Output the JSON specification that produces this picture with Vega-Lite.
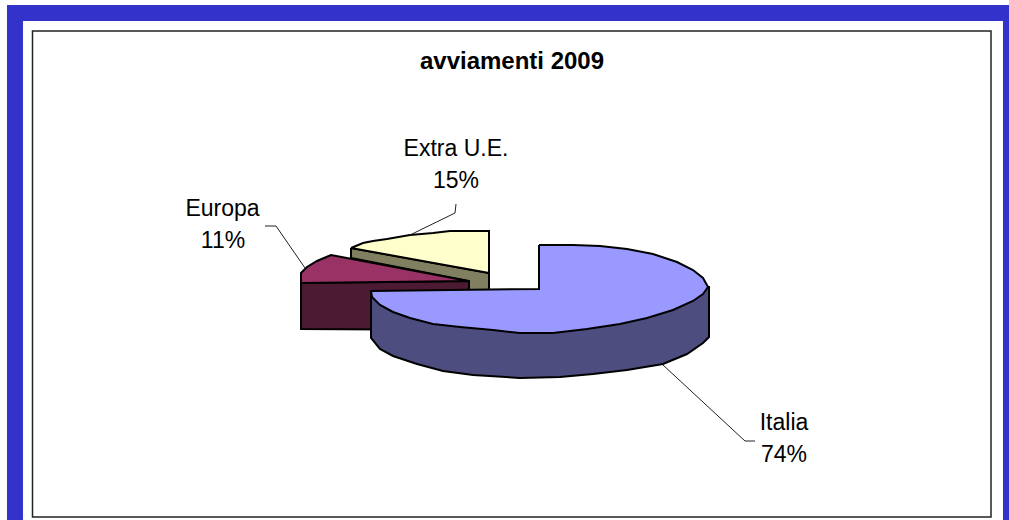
{"$schema":"https://vega.github.io/schema/vega-lite/v6.json","width":1009,"height":520,"padding":0,"autosize":{"type":"fit","contains":"padding"},"background":"white","view":{"stroke":null},
"datasets":{
"frame":[{"p":"blueL","x":7,"x2":23,"y":5,"y2":520,"f":"#3333cc"},{"p":"blueT","x":7,"x2":1009,"y":5,"y2":21,"f":"#3333cc"},{"p":"blueR","x":1003,"x2":1009,"y":5,"y2":520,"f":"#3333cc"}],
"box":[{"x":32.5,"x2":991,"y":31,"y2":517}],
"shapes":[
{"part":"1 Extra side","s":0,"x":351,"y":248},{"part":"1 Extra side","s":1,"x":351,"y":258},{"part":"1 Extra side","s":2,"x":469,"y":281},{"part":"1 Extra side","s":3,"x":469,"y":291},{"part":"1 Extra side","s":4,"x":489,"y":291},{"part":"1 Extra side","s":5,"x":489,"y":273},{"part":"1 Extra side","s":6,"x":351,"y":248},
{"part":"2 Extra top","s":0,"x":351,"y":248},{"part":"2 Extra top","s":1,"x":363,"y":243},{"part":"2 Extra top","s":2,"x":373,"y":241},{"part":"2 Extra top","s":3,"x":387,"y":239},{"part":"2 Extra top","s":4,"x":410,"y":235},{"part":"2 Extra top","s":5,"x":433,"y":233},{"part":"2 Extra top","s":6,"x":450,"y":231},{"part":"2 Extra top","s":7,"x":489,"y":231},{"part":"2 Extra top","s":8,"x":489,"y":273},{"part":"2 Extra top","s":9,"x":351,"y":248},
{"part":"3 Europa side","s":0,"x":301,"y":283},{"part":"3 Europa side","s":1,"x":469,"y":281},{"part":"3 Europa side","s":2,"x":469,"y":330},{"part":"3 Europa side","s":3,"x":301,"y":329},{"part":"3 Europa side","s":4,"x":301,"y":283},
{"part":"4 Europa top","s":0,"x":301,"y":283},{"part":"4 Europa top","s":1,"x":301,"y":273},{"part":"4 Europa top","s":2,"x":307,"y":267},{"part":"4 Europa top","s":3,"x":317,"y":261},{"part":"4 Europa top","s":4,"x":331,"y":255},{"part":"4 Europa top","s":5,"x":468,"y":281},{"part":"4 Europa top","s":6,"x":301,"y":283},
{"part":"5 Italia side","s":0,"x":371,"y":291},{"part":"5 Italia side","s":1,"x":371,"y":338},{"part":"5 Italia side","s":2,"x":380,"y":349},{"part":"5 Italia side","s":3,"x":393,"y":356},{"part":"5 Italia side","s":4,"x":417,"y":364},{"part":"5 Italia side","s":5,"x":443,"y":371},{"part":"5 Italia side","s":6,"x":473,"y":375},{"part":"5 Italia side","s":7,"x":520,"y":378},{"part":"5 Italia side","s":8,"x":560,"y":377},{"part":"5 Italia side","s":9,"x":593,"y":374},{"part":"5 Italia side","s":10,"x":627,"y":370},{"part":"5 Italia side","s":11,"x":663,"y":364},{"part":"5 Italia side","s":12,"x":687,"y":354},{"part":"5 Italia side","s":13,"x":703,"y":343},{"part":"5 Italia side","s":14,"x":709,"y":337},{"part":"5 Italia side","s":15,"x":709,"y":287},{"part":"5 Italia side","s":16,"x":520,"y":300},{"part":"5 Italia side","s":17,"x":371,"y":291},
{"part":"6 Italia top","s":0,"x":539,"y":245},{"part":"6 Italia top","s":1,"x":539,"y":289},{"part":"6 Italia top","s":2,"x":371,"y":291},{"part":"6 Italia top","s":3,"x":372,"y":297},{"part":"6 Italia top","s":4,"x":380,"y":305},{"part":"6 Italia top","s":5,"x":393,"y":312},{"part":"6 Italia top","s":6,"x":410,"y":318},{"part":"6 Italia top","s":7,"x":433,"y":324},{"part":"6 Italia top","s":8,"x":460,"y":327},{"part":"6 Italia top","s":9,"x":493,"y":330},{"part":"6 Italia top","s":10,"x":520,"y":333},{"part":"6 Italia top","s":11,"x":553,"y":333},{"part":"6 Italia top","s":12,"x":587,"y":329},{"part":"6 Italia top","s":13,"x":620,"y":324},{"part":"6 Italia top","s":14,"x":647,"y":318},{"part":"6 Italia top","s":15,"x":673,"y":310},{"part":"6 Italia top","s":16,"x":693,"y":301},{"part":"6 Italia top","s":17,"x":703,"y":294},{"part":"6 Italia top","s":18,"x":708,"y":287},{"part":"6 Italia top","s":19,"x":703,"y":278},{"part":"6 Italia top","s":20,"x":693,"y":270},{"part":"6 Italia top","s":21,"x":677,"y":262},{"part":"6 Italia top","s":22,"x":653,"y":254},{"part":"6 Italia top","s":23,"x":627,"y":249},{"part":"6 Italia top","s":24,"x":600,"y":246},{"part":"6 Italia top","s":25,"x":573,"y":245},{"part":"6 Italia top","s":26,"x":539,"y":245}
],
"leaders":[
{"l":"Extra","s":0,"x":456,"y":204},{"l":"Extra","s":1,"x":455,"y":213},{"l":"Extra","s":2,"x":410,"y":235},
{"l":"Europa","s":0,"x":265,"y":226},{"l":"Europa","s":1,"x":276,"y":226},{"l":"Europa","s":2,"x":305,"y":268},
{"l":"Italia","s":0,"x":755,"y":441},{"l":"Italia","s":1,"x":745,"y":441},{"l":"Italia","s":2,"x":663,"y":365}
],
"labels":[
{"t":"Extra U.E.","x":456,"y":149},{"t":"15%","x":456,"y":181},
{"t":"Europa","x":222.5,"y":209},{"t":"11%","x":223,"y":241},
{"t":"Italia","x":784,"y":423},{"t":"74%","x":784,"y":455}
],
"title":[{"t":"avviamenti 2009","x":512,"y":62}]
},
"encoding":{
"x":{"field":"x","type":"quantitative","scale":{"domain":[0,1009],"nice":false,"zero":false},"axis":null},
"y":{"field":"y","type":"quantitative","scale":{"domain":[520,0],"nice":false,"zero":false},"axis":null}
},
"layer":[
{"data":{"name":"frame"},"mark":{"type":"rect","color":"#3333cc"},"encoding":{"x2":{"field":"x2"},"y2":{"field":"y2"},"detail":{"field":"p"}}},
{"data":{"name":"box"},"mark":{"type":"rect","fill":"white","stroke":"#222222","strokeWidth":1.5},"encoding":{"x2":{"field":"x2"},"y2":{"field":"y2"}}},
{"data":{"name":"shapes"},"mark":{"type":"line","stroke":"black","strokeWidth":2,"interpolate":"linear"},"encoding":{"order":{"field":"s"},"detail":{"field":"part"},"fill":{"field":"part","type":"nominal","legend":null,"scale":{"domain":["1 Extra side","2 Extra top","3 Europa side","4 Europa top","5 Italia side","6 Italia top"],"range":["#808060","#ffffcc","#4d1a33","#993366","#4d4d80","#9999ff"]}}}},
{"data":{"name":"leaders"},"mark":{"type":"line","stroke":"#222222","strokeWidth":1},"encoding":{"order":{"field":"s"},"detail":{"field":"l"}}},
{"data":{"name":"labels"},"mark":{"type":"text","font":"Liberation Sans","fontSize":23,"color":"black","align":"center","baseline":"middle"},"encoding":{"text":{"field":"t"}}},
{"data":{"name":"title"},"mark":{"type":"text","font":"Liberation Sans","fontSize":24,"fontWeight":"bold","color":"black","align":"center","baseline":"middle"},"encoding":{"text":{"field":"t"}}}
]}
